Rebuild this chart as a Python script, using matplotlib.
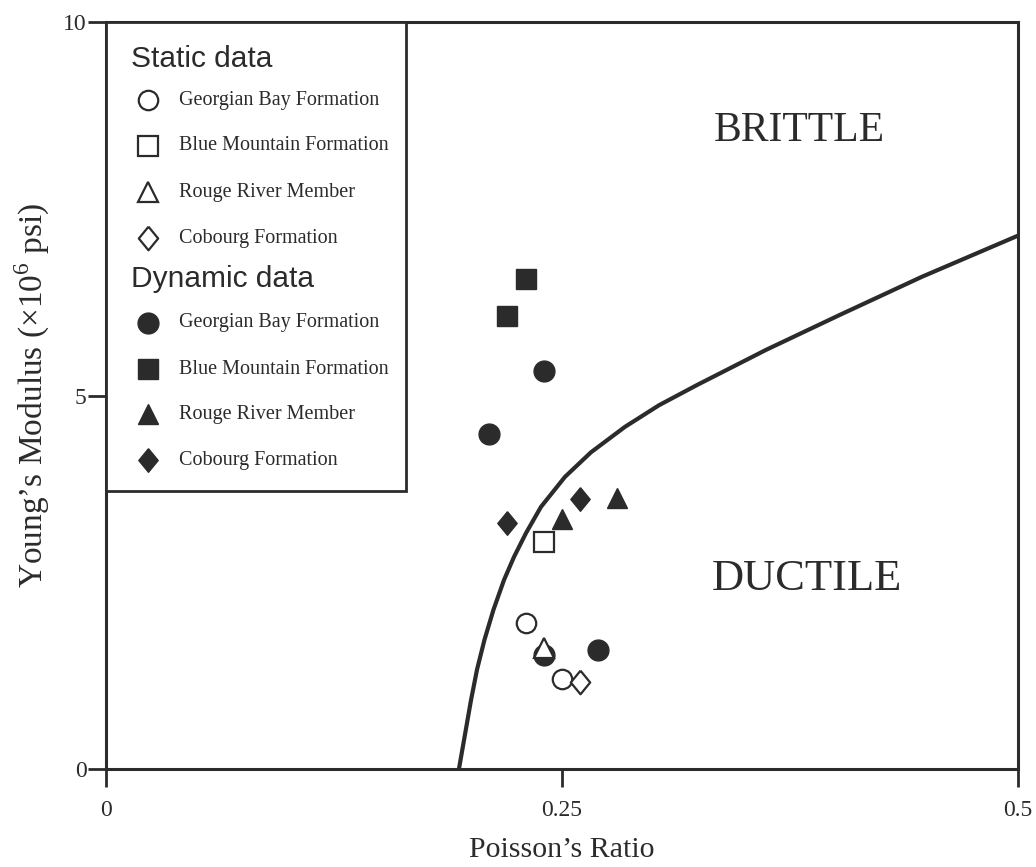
import matplotlib
matplotlib.use('Agg')
import matplotlib.pyplot as plt
from matplotlib.patches import Rectangle

plt.rcParams['font.family'] = ['Liberation Serif', 'DejaVu Serif']
plt.rcParams['mathtext.fontset'] = 'custom'
plt.rcParams['mathtext.rm'] = 'Liberation Serif'

# %% data

formations = ['Georgian Bay Formation', 'Blue Mountain Formation',
              'Rouge River Member', 'Cobourg Formation']

# static (lab) measurements : Poisson's ratio , Young's modulus (x10^6 psi)
static_pr = {
    'Georgian Bay Formation': [0.23, 0.25],
    'Blue Mountain Formation': [0.24],
    'Rouge River Member': [0.24],
    'Cobourg Formation': [0.26],
}
static_e = {
    'Georgian Bay Formation': [1.95, 1.20],
    'Blue Mountain Formation': [3.04],
    'Rouge River Member': [1.62],
    'Cobourg Formation': [1.16],
}

# dynamic (log) measurements
dynamic_pr = {
    'Georgian Bay Formation': [0.24, 0.21, 0.27, 0.24],
    'Blue Mountain Formation': [0.23, 0.22],
    'Rouge River Member': [0.28, 0.25],
    'Cobourg Formation': [0.22, 0.26],
}
dynamic_e = {
    'Georgian Bay Formation': [5.33, 4.48, 1.59, 1.53],
    'Blue Mountain Formation': [6.56, 6.06],
    'Rouge River Member': [3.63, 3.35],
    'Cobourg Formation': [3.29, 3.61],
}

# brittle / ductile boundary
boundary_pr = [0.1935, 0.1963, 0.2001, 0.2034, 0.2075, 0.2124, 0.2182, 0.2237,
               0.2303, 0.2385, 0.2516, 0.2659, 0.2845, 0.3032, 0.3240, 0.3618,
               0.4024, 0.4474, 0.5]
boundary_e = [0.0, 0.39, 0.92, 1.33, 1.73, 2.13, 2.53, 2.84,
              3.16, 3.51, 3.91, 4.24, 4.58, 4.87, 5.14, 5.61,
              6.08, 6.59, 7.14]

# %% styles

ink = '#2b2b2b'
thin_diamond = [(0, 1), (0.82, 0), (0, -1), (-0.82, 0), (0, 1)]

marker_style = {
    'Georgian Bay Formation': dict(marker='o', ms=15),
    'Blue Mountain Formation': dict(marker='s', ms=15),
    'Rouge River Member': dict(marker='^', ms=15),
    'Cobourg Formation': dict(marker=thin_diamond, ms=17),
}
open_style = {
    'Georgian Bay Formation': dict(marker='o', ms=14),
    'Blue Mountain Formation': dict(marker='s', ms=14),
    'Rouge River Member': dict(marker='^', ms=14),
    'Cobourg Formation': dict(marker=thin_diamond, ms=17),
}

# %% figure

fig = plt.figure(figsize=(10.36, 8.67), dpi=100)
ax = fig.add_axes([106 / 1036, 98 / 867, 912 / 1036, 747 / 867])

ax.plot(boundary_pr, boundary_e, color=ink, lw=3, solid_joinstyle='round',
        solid_capstyle='butt', zorder=2)

for f in formations:
    ax.plot(dynamic_pr[f], dynamic_e[f], ls='none', color=ink, mec=ink,
            zorder=3, **marker_style[f])

# open symbols sit on top (white fill hides what's under them)
for f in formations:
    ax.plot(static_pr[f], static_e[f], ls='none', mfc='white', mec=ink,
            mew=1.6, zorder=4, **open_style[f])

ax.set_xlim(0, 0.5)
ax.set_ylim(0, 10)
ax.set_xticks([0, 0.25, 0.5])
ax.set_xticklabels(['0', '0.25', '0.5'])
ax.set_yticks([0, 5, 10])
ax.set_yticklabels(['0', '5', '10'])

for s in ax.spines.values():
    s.set_linewidth(2.2)
    s.set_color(ink)
ax.tick_params(axis='both', direction='out', length=13, width=2, color=ink,
               labelsize=17, labelcolor=ink)
ax.tick_params(axis='x', pad=9.5)
ax.tick_params(axis='y', pad=1)

ax.set_xlabel('Poisson\u2019s Ratio', fontsize=21.5, color=ink, labelpad=11)
ax.set_ylabel('Young\u2019s Modulus (\u00d710$^{6}$ psi)', fontsize=24,
              color=ink, labelpad=8)

ax.text(0.38, 8.55, 'BRITTLE', fontsize=30, color=ink, ha='center', va='center')
ax.text(0.384, 2.55, 'DUCTILE', fontsize=32, color=ink, ha='center', va='center')

# %% legend box, drawn by hand (two groups with headers)

def px(xp, yp):
    # pixel position -> axes fraction
    return (xp - 106) / 912, (769 - yp) / 747

x0, y0 = px(106, 491)
x1, y1 = px(406, 22)
ax.add_patch(Rectangle((x0, y0), x1 - x0, y1 - y0, transform=ax.transAxes,
                       facecolor='white', edgecolor=ink, lw=2, zorder=6,
                       clip_on=False))

header_kw = dict(fontsize=21.5, family=['Liberation Sans', 'DejaVu Sans'],
                 color=ink, va='center', ha='left', transform=ax.transAxes,
                 zorder=7)
entry_kw = dict(fontsize=14.5, color=ink, va='center', ha='left',
                transform=ax.transAxes, zorder=7)

ax.text(*px(131, 59), 'Static data', **header_kw)
ax.text(*px(131, 279), 'Dynamic data', **header_kw)

static_rows = [100, 146, 192, 238]
dynamic_rows = [323, 369, 414, 460]

for f, r in zip(formations, static_rows):
    mx, my = px(148, r)
    ax.plot([mx], [my], transform=ax.transAxes, ls='none', mfc='white',
            mec=ink, mew=1.6, zorder=7, clip_on=False, **open_style[f])
    ax.text(*px(179, r), f, **entry_kw)

for f, r in zip(formations, dynamic_rows):
    mx, my = px(148, r)
    ax.plot([mx], [my], transform=ax.transAxes, ls='none', color=ink,
            mec=ink, zorder=7, clip_on=False, **marker_style[f])
    ax.text(*px(179, r), f, **entry_kw)

fig.savefig('out.png', dpi=100)
